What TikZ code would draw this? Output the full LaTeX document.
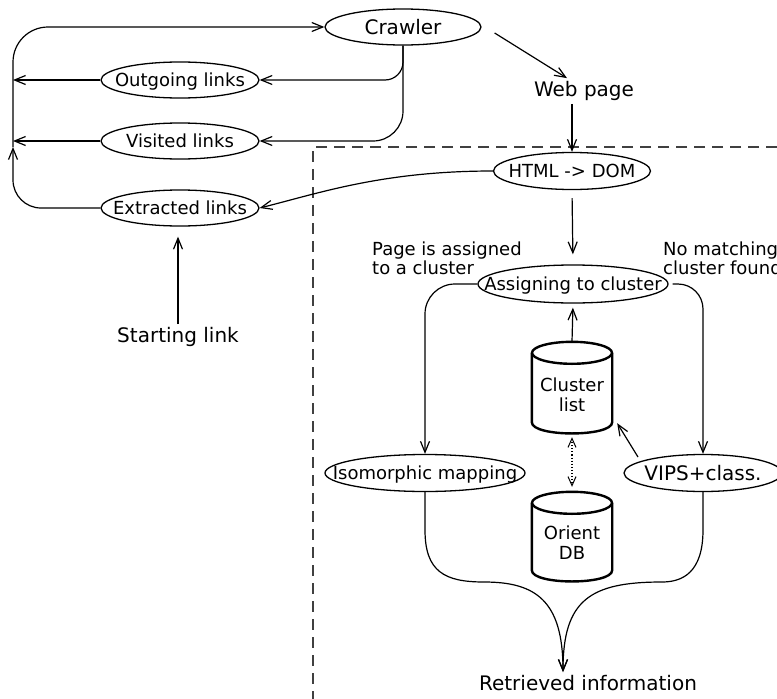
\documentclass[tikz,border=0pt]{standalone}
\usepackage{fontspec}
\setmainfont{DejaVu Sans}
\usetikzlibrary{arrows.meta,calc,shapes.geometric}
\newcommand\fbig{\fontsize{20}{24}\selectfont}
\newcommand\fsmall{\fontsize{18}{19}\selectfont}
\newcommand\fcyl{\fontsize{18}{20}\selectfont}
\tikzset{
  ell/.style={ellipse, draw, line width=1.3pt, inner sep=0pt, text depth=0pt,
    execute at begin node={\hbox to 0pt\bgroup\hss},
    execute at end node={\hss\egroup}},
  ells/.style={ell, font=\fsmall, text height=13.1pt},
  ellb/.style={ell, font=\fbig, text height=14.6pt},
  txt/.style={inner sep=3pt},
  cyl/.style={rectangle, inner sep=0pt, minimum width=80pt, minimum height=#1},
  cylline/.style={line width=2.4pt, line join=round},
  arr/.style={line width=1.2pt, -{Straight Barb[length=11pt,width=9pt,line width=1.2pt]}},
  darr/.style={line width=1.1pt, dotted, {Straight Barb[length=9pt,width=8pt,line width=1pt]}-{Straight Barb[length=9pt,width=8pt,line width=1pt]}},
  frame/.style={line width=1.3pt, draw=black!75, dash pattern=on 11pt off 7pt}
}
\begin{document}
\begin{tikzpicture}[x=1pt,y=-1pt]
\useasboundingbox (0,0) rectangle (777,699);
\clip (0,0) rectangle (777,699);

% dashed frame
\draw[frame] (777,147) -- (313,147) -- (313,699);

% nodes
\node[ellb, minimum width=156pt, minimum height=36pt] (crawler) at (403,27) {Crawler};
\node[ells, minimum width=158pt, minimum height=36pt] (ol) at (180,80) {Outgoing links};
\node[ells, minimum width=158pt, minimum height=36pt] (vl) at (180,141) {Visited links};
\node[ells, minimum width=158pt, minimum height=36pt] (el) at (180,208) {Extracted links};
\node[txt, font=\fbig] (start) at (178,337) {Starting link};
\node[txt, font=\fbig] (web) at (584,91) {Web page};
\node[ells, minimum width=157pt, minimum height=37pt] (html) at (572,171) {HTML -> DOM};
\node[ells, minimum width=190pt, minimum height=38pt] (assign) at (573,284) {Assigning to cluster};
\node[ells, minimum width=200pt, minimum height=37pt] (iso) at (425,473) {Isomorphic mapping};
\node[ellb, minimum width=158pt, minimum height=37pt] (vips) at (703,473) {VIPS+class.};
\node[txt, font=\fbig] (ret) at (588,683) {Retrieved information};
\node[inner sep=0pt, font=\fsmall, align=left, anchor=west] (lblA) at (372,258) {Page is assigned\\to a cluster};
\node[inner sep=0pt, font=\fsmall, align=left, anchor=west] (lblB) at (663,258) {No matching\\cluster found};

% cylinders
\node[cyl=91pt] (cl) at (572,387.5) {};
\node[cyl=89pt] (odb) at (572,536.5) {};
\node[font=\fcyl, align=center, inner sep=0pt] (cltxt) at (572,395) {Cluster\\list};
\node[font=\fcyl, align=center, inner sep=0pt] (odbtxt) at (572,543) {Orient\\DB};
\foreach \n in {cl,odb} {
  \draw[cylline] ([yshift=-11pt]\n.north west) -- ([yshift=11pt]\n.south west)
    .. controls +(0,15) and +(0,15) .. ([yshift=11pt]\n.south east)
    -- ([yshift=-11pt]\n.north east);
  \draw[cylline] ([yshift=-11pt]\n.north) ellipse [x radius=40pt, y radius=11pt];
}

% left loop
\coordinate (lp) at (13,147);
\draw[arr, rounded corners=28pt] (el.west) -| (lp);
\draw[arr, rounded corners=35pt] (lp) |- (crawler.west);
\draw[arr] (ol.west) -- (ol.west -| lp);
\draw[arr] (vl.west) -- (vl.west -| lp);
\draw[arr, rounded corners=18pt] (crawler.south) |- (ol.east);
\draw[arr, rounded corners=30pt] (crawler.south) |- (vl.east);

% crawler to web page to html
\draw[arr] ([shift={(13,6)}]crawler.east) -- ([xshift=-17pt]web.north);
\draw[arr] (web.south -| html.north) -- (html.north);
\draw[arr] (html.west) .. controls +(-110,0) and +(60,-15) .. (el.east);
\draw[arr, shorten >=10pt] (start.north) -- (start.north |- el.south);

% processing
\draw[arr, shorten <=8pt, shorten >=10pt] (html.south) -- (assign.north);
\draw[arr, rounded corners=30pt] (assign.west) -| (iso.north);
\draw[arr, shorten <=4pt, rounded corners=25pt] (assign.east) -| (vips.north);
\draw[arr, shorten >=4pt] (cl.north) -- (assign.south);
\draw[darr, shorten <=4pt, shorten >=5pt] (cl.south) -- (odb.north);
\draw[arr] ([shift={(-65,-16)}]vips.center) -- ([shift={(5,-10)}]cl.south east);

% merge to retrieved information
\coordinate (rin) at ([xshift=-25pt]ret.north);
\draw[arr] (iso.south) -- (425,530) .. controls (425,572) and (445,582) .. (484,582)
  .. controls (535,582) and (563,600) .. (rin);
\draw[arr] (vips.south) -- (703,530) .. controls (703,572) and (683,582) .. (662,582)
  .. controls (590,582) and (563,600) .. (rin);
\end{tikzpicture}
\end{document}
